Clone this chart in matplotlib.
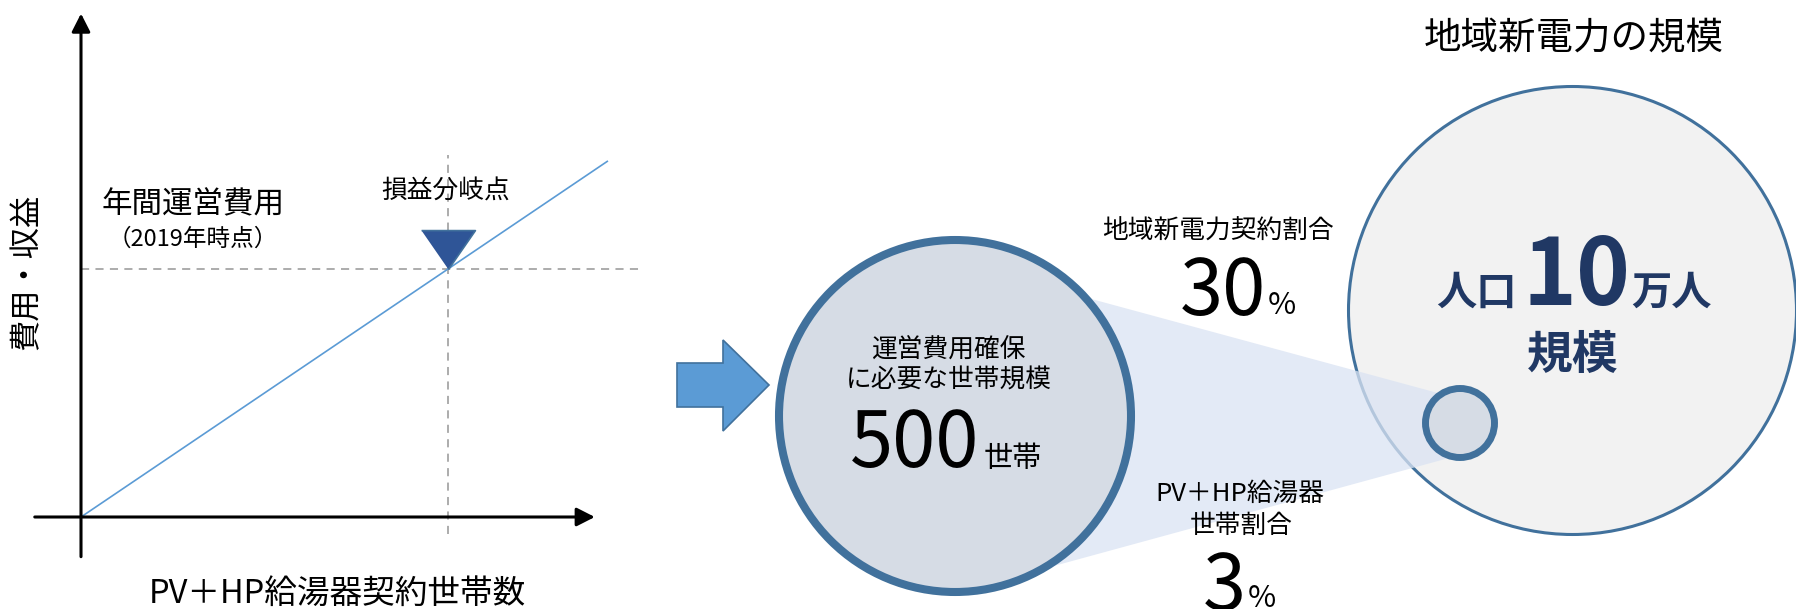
import matplotlib
matplotlib.use("Agg")
import matplotlib.pyplot as plt
from matplotlib.patches import Circle, Polygon

plt.rcParams['font.family'] = ['Noto Sans CJK JP', 'DejaVu Sans']

# break-even chart: households on x, annual cost / revenue (normalised) on y
breakeven_households = 500
annual_cost = 1.0
revenue_households = [0, 717]
revenue_values = [0, 1.434]

# regional utility figures
utility_share_pct = 30
pv_hp_share_pct = 3
population_man = 10   # in units of 10,000 people

W, H = 1796, 609
fig = plt.figure(figsize=(W / 100, H / 100), dpi=100)

# ---- left: break-even chart ----
# pixel box of the chart axes, origin sits at (81, 517) px
sx, sy = 0.734, 248.0
box = (30, 10, 645, 565)
ax1 = fig.add_axes([box[0] / W, 1 - box[3] / H, (box[2] - box[0]) / W, (box[3] - box[1]) / H])
ax1.set_xlim((box[0] - 81) / sx, (box[2] - 81) / sx)
ax1.set_ylim((517 - box[3]) / sy, (517 - box[1]) / sy)
ax1.axis('off')

arrow_kw = dict(arrowstyle='-|>,head_length=0.55,head_width=0.28', color='black',
                lw=2.2, mutation_scale=20, shrinkA=0, shrinkB=0)
ax1.annotate('', xy=(700, 0), xytext=(-63, 0), arrowprops=arrow_kw)
ax1.annotate('', xy=(0, 2.03), xytext=(0, -0.16), arrowprops=arrow_kw)

ax1.plot([0, 760], [annual_cost, annual_cost], color='#A6A6A6',
         lw=1.3, dashes=(4.5, 3.5), zorder=1)
ax1.plot([breakeven_households, breakeven_households], [-0.07, 1.46], color='#A6A6A6',
         lw=1.3, dashes=(4.5, 3.5), zorder=1)
ax1.plot(revenue_households, revenue_values, color='#5B9BD5', lw=1.2, zorder=2)
ax1.plot(breakeven_households, annual_cost, marker=[(-27, 39), (27, 39), (0, 0)],
         ms=56, color='#2F5597', mec='#41719C', mew=1.2, zorder=3)

# ---- overlay in pixel units for the right-hand diagram and labels ----
ax = fig.add_axes([0, 0, 1, 1])
ax.set_xlim(0, W)
ax.set_ylim(H, 0)
ax.axis('off')

ax.text(193, 205, '年間運営費用', fontsize=22, ha='center', va='center')
ax.text(193, 239, '（2019年時点）', fontsize=17, ha='center', va='center')
ax.text(446, 192, '損益分岐点', fontsize=18.5, ha='center', va='center')
ax.text(27, 272, '費用・収益', fontsize=22.5, ha='center', va='center', rotation=90)
ax.text(337, 594, 'PV＋HP給湯器契約世帯数', fontsize=23.5, ha='center', va='center')

# block arrow
ax.add_patch(Polygon([(677, 363), (723, 363), (723, 340), (769, 385), (723, 431),
                      (723, 407), (677, 407)], closed=True, fc='#5B9BD5', ec='#41719C',
                     lw=1.2, zorder=2))

# region circle
ax.add_patch(Circle((1572.5, 310.5), 224, fc='#F2F2F2', ec='#41719C', lw=2.2, zorder=1))
# cone linking the two circles
ax.add_patch(Polygon([(955, 262), (1460, 399), (1460, 455), (955, 593)], closed=True,
                     fc='#DAE3F3', ec='none', alpha=0.75, zorder=2))
# required households circle and small circle inside region
ax.add_patch(Circle((955, 416), 176, fc='#D6DCE5', ec='#41719C', lw=5.8, zorder=3))
ax.add_patch(Circle((1460, 423), 34.5, fc='#D6DCE5', ec='#41719C', lw=5.0, zorder=3))

ax.text(948, 351, '運営費用確保', fontsize=18.5, ha='center', va='center', zorder=5)
ax.text(949, 381, 'に必要な世帯規模', fontsize=18.5, ha='center', va='center', zorder=5)
ax.text(979, 467, f'{breakeven_households}', fontsize=56, ha='right', va='baseline', zorder=5)
ax.text(984, 467, '世帯', fontsize=21, ha='left', va='baseline', zorder=5)

ax.text(1218, 232, '地域新電力契約割合', fontsize=18.5, ha='center', va='center', zorder=5)
ax.text(1266, 315, f'{utility_share_pct}', fontsize=56, ha='right', va='baseline', zorder=5)
ax.text(1268, 314, '%', fontsize=22, ha='left', va='baseline', zorder=5)

ax.text(1240, 494, 'PV＋HP給湯器', fontsize=18.5, ha='center', va='center', zorder=5)
ax.text(1241, 526, '世帯割合', fontsize=18.5, ha='center', va='center', zorder=5)
ax.text(1246, 610, f'{pv_hp_share_pct}', fontsize=56, ha='right', va='baseline', zorder=5)
ax.text(1248, 607, '%', fontsize=22, ha='left', va='baseline', zorder=5)

ax.text(1574, 39, '地域新電力の規模', fontsize=27, ha='center', va='center', zorder=5)
navy = '#203864'
ax.text(1517, 305, '人口', fontsize=29, fontweight='bold', color=navy, ha='right', va='baseline', zorder=5)
ax.text(1576, 305, f'{population_man}', fontsize=66, fontweight='bold', color=navy, ha='center', va='baseline', zorder=5)
ax.text(1631, 305, '万人', fontsize=29, fontweight='bold', color=navy, ha='left', va='baseline', zorder=5)
ax.text(1573, 356, '規模', fontsize=33, fontweight='bold', color=navy, ha='center', va='center', zorder=5)

fig.savefig('out.png', dpi=100, facecolor='white')
